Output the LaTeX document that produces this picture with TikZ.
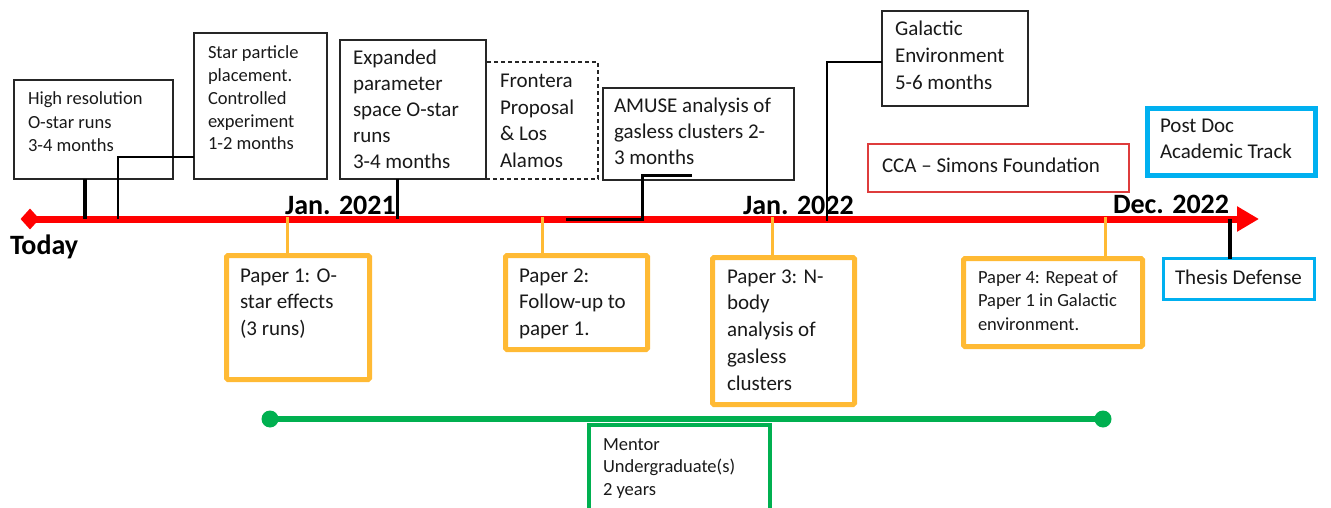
\documentclass[tikz,border=0pt]{standalone}
\usepackage{fontspec}
\setmainfont{Carlito}
\usetikzlibrary{arrows.meta,shapes.geometric}
\definecolor{tlred}{RGB}{255,0,0}
\definecolor{gold}{RGB}{255,186,52}
\definecolor{grn}{RGB}{0,176,80}
\definecolor{sky}{RGB}{0,176,240}
\definecolor{boxred}{RGB}{222,60,60}
\newcommand\ml[3]{\parbox[t]{330pt}{\fontsize{#1}{#2}\selectfont #3}}
\begin{document}
\begin{tikzpicture}[x=1pt,y=-1pt,
  box/.style={draw=black!85, line width=1.3pt, anchor=north west, inner sep=0pt, outer sep=0pt},
  dbox/.style={box, dash pattern=on 4pt off 3pt},
  gbox/.style={draw=gold, line width=5pt, rounded corners=1.5pt, anchor=north west, inner sep=0pt, outer sep=0pt},
  bbox/.style={draw=sky, anchor=north west, inner sep=0pt, outer sep=0pt},
  txt/.style={anchor=base west, inner sep=0pt, outer sep=0pt, text=black!90},
  lbl/.style={anchor=base west, inner sep=0pt, outer sep=0pt, font=\fontsize{28}{30}\selectfont\bfseries},
  conn/.style={draw=black, line width=#1},
  conn/.default=3pt,
  oconn/.style={draw=gold, line width=3pt}
]
\useasboundingbox (0,0) rectangle (1331,508);
\clip (0,0) rectangle (1331,508);

% ---- timeline ----
\coordinate (tl0) at (30,219);
\coordinate (tl1) at (1259,219);
\draw[tlred, line width=7pt, -{Triangle[length=22pt,width=24pt]}] (tl0) -- (tl1);
\node[diamond, fill=tlred, inner sep=0pt, minimum width=19pt, minimum height=21pt] (dia) at (tl0) {};

\node[lbl] (today) at (10,254) {Today};
\node[lbl] (jan21) at (285,214) {Jan. 2021};
\node[lbl] (jan22) at (743,214) {Jan. 2022};
\node[lbl] (dec22) at (1113,213) {Dec. 2022};

% ---- upper black boxes ----
\node[box, minimum width=159pt, minimum height=99pt] (b1) at (14,80) {};
\node[txt] (t1) at (28,105) {\ml{18.5}{23.5}{High resolution\\O-star runs\\3-4 months}};

\node[box, minimum width=133pt, minimum height=146pt] (b2) at (194,33) {};
\node[txt] (t2) at (208,59) {\ml{18.5}{22.75}{Star particle\\placement.\\Controlled\\experiment\\1-2 months}};

\node[dbox, minimum width=112pt, minimum height=117pt] (b4) at (486,62) {};
\node[txt] (t4) at (500,88) {\ml{21}{26.5}{Frontera\\Proposal\\\& Los\\Alamos}};

\node[box, minimum width=146pt, minimum height=139pt] (b3) at (340,40) {};
\node[txt] (t3) at (353,65) {\ml{21}{26}{Expanded\\parameter\\space O-star\\runs\\3-4 months}};

\node[box, minimum width=191pt, minimum height=92pt] (b5) at (603,88) {};
\node[txt] (t5) at (614,113) {\ml{21}{26}{AMUSE analysis of\\gasless clusters 2-\\3 months}};

\node[box, minimum width=146pt, minimum height=95pt] (b6) at (882,11) {};
\node[txt] (t6) at (895,36) {\ml{21}{27}{Galactic\\Environment\\5-6 months}};

\node[draw=boxred, line width=1.2pt, anchor=north west, inner sep=0pt, outer sep=0pt,
      minimum width=261pt, minimum height=48pt] (b7) at (868,144) {};
\node[txt] (t7) at (882,172) {\ml{21}{26}{CCA – Simons Foundation}};

\node[bbox, line width=5pt, minimum width=168pt, minimum height=67pt] (b8) at (1147.5,108.5) {};
\node[txt] (t8) at (1160,133) {\ml{21}{26}{Post Doc\\Academic Track}};

\node[bbox, line width=3pt, minimum width=151pt, minimum height=41pt] (b9) at (1163.5,258.5) {};
\node[txt] (t9) at (1175,284) {\ml{21}{26}{Thesis Defense}};

% ---- paper boxes ----
\node[gbox, minimum width=143pt, minimum height=124pt] (p1) at (226.5,255.5) {};
\node[txt] (tp1) at (240,282) {\ml{21}{26.5}{Paper 1: O-\\star effects\\(3 runs)}};

\node[gbox, minimum width=142pt, minimum height=94pt] (p2) at (505.5,255.5) {};
\node[txt] (tp2) at (519,282) {\ml{21}{26.5}{Paper 2:\\Follow-up to\\paper 1.}};

\node[gbox, minimum width=142pt, minimum height=147pt] (p3) at (712.5,257.5) {};
\node[txt] (tp3) at (727,283) {\ml{21}{26.75}{Paper 3: N-\\body\\analysis of\\gasless\\clusters}};

\node[gbox, minimum width=179pt, minimum height=88pt] (p4) at (963.5,258.5) {};
\node[txt] (tp4) at (978,283) {\ml{18.5}{23.5}{Paper 4: Repeat of\\Paper 1 in Galactic\\environment.}};

% ---- mentor ----
\node[circle, fill=grn, inner sep=0pt, minimum size=17pt] (g0) at (270,419) {};
\node[circle, fill=grn, inner sep=0pt, minimum size=17pt] (g1) at (1103,419) {};
\draw[grn, line width=6pt] (g0.center) -- (g1.center);
\node[draw=grn, line width=4pt, anchor=north west, inner sep=0pt, outer sep=0pt,
      minimum width=181pt, minimum height=100pt] (gm) at (589,425) {};
\node[txt] (tm) at (603,450) {\ml{18.5}{22.5}{Mentor\\Undergraduate(s)\\2 years}};

% ---- connectors ----
\coordinate (k1) at (85,219);
\coordinate (k2) at (118,219);
\coordinate (k3) at (397,219);
\coordinate (k4a) at (692,176);
\coordinate (k4m) at (642,219);
\coordinate (k4b) at (566,219);
\coordinate (k5) at (827,221);
\coordinate (k6) at (1230,219);
\draw[conn=4pt] (b1.south -| k1) -- (k1);
\draw[conn=2.6pt] ([yshift=-51pt]b2.west) -| (k2);
\draw[conn=3pt] (b3.south -| k3) -- (k3);
\draw[conn=3pt] (k4a) -| (k4m) -- (k4b);
\draw[conn=1.5pt] ([yshift=-3.5pt]b6.west) -| (k5);
\draw[conn=4pt] (k6) -- (k6 |- b9.north);

\coordinate (o1) at (287,217);
\coordinate (o2) at (542,217);
\coordinate (o3) at (772,217);
\coordinate (o4) at (1105,217);
\draw[oconn] (o1) -- (o1 |- p1.north);
\draw[oconn] (o2) -- (o2 |- p2.north);
\draw[oconn] (o3) -- (o3 |- p3.north);
\draw[oconn] (o4) -- (o4 |- p4.north);
\end{tikzpicture}
\end{document}
